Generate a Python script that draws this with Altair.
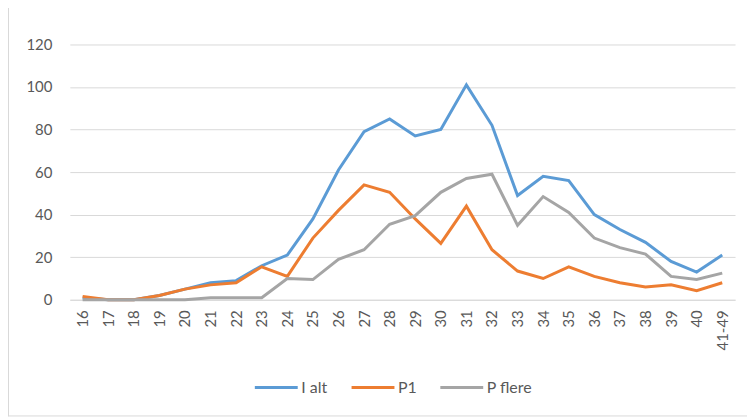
import altair as alt
import pandas as pd

ages = ["16", "17", "18", "19", "20", "21", "22", "23", "24", "25", "26", "27", "28",
        "29", "30", "31", "32", "33", "34", "35", "36", "37", "38", "39", "40", "41-49"]
i_alt = [1, 0, 0, 2, 5, 8, 9, 16, 21, 38, 61, 79, 85, 77, 80, 101, 82, 49, 58, 56, 40, 33, 27, 18, 13, 21]
p1 = [1.5, 0, 0, 2, 5, 7, 8, 15.5, 11, 29, 42, 54, 50.5, 38, 26.5, 44, 23.5, 13.5, 10, 15.5, 11, 8, 6, 7, 4.3, 8]
p_flere = [0, 0, 0, 0, 0, 1, 1, 1, 10, 9.5, 19, 23.5, 35.5, 39.5, 50.5, 57, 59, 35, 48.5, 41, 29, 24.5, 21.5, 11, 9.5, 12.5]

series = ["I alt", "P1", "P flere"]
colors = ["#5B9BD5", "#ED7D31", "#A5A5A5"]

rows = []
for name, vals in zip(series, [i_alt, p1, p_flere]):
    for i, (a, v) in enumerate(zip(ages, vals)):
        rows.append({"age": a, "value": v, "series": name, "order": i})
df = pd.DataFrame(rows)

FONT = "Lato, Open Sans, sans-serif"

lines = alt.Chart(df).mark_line(strokeWidth=3).encode(
    x=alt.X("age:N", sort=ages, title=None,
            scale=alt.Scale(type="point", padding=0.5),
            axis=alt.Axis(labelAngle=-90, labelPadding=10, ticks=False,
                          domainColor="#d9d9d9", labelColor="#595959",
                          labelFontSize=15, labelFont=FONT, labelAlign="right",
                          labelBaseline="middle")),
    y=alt.Y("value:Q", title=None,
            scale=alt.Scale(domain=[0, 120]),
            axis=alt.Axis(values=[0, 20, 40, 60, 80, 100, 120], domain=False, ticks=False,
                          gridColor="#d9d9d9", labelPadding=18, labelColor="#595959",
                          labelFontSize=15, labelFont=FONT)),
    color=alt.Color("series:N", sort=series,
                    scale=alt.Scale(domain=series, range=colors),
                    legend=alt.Legend(title=None, orient="none", direction="horizontal",
                                      legendX=184, legendY=321,
                                      symbolType="stroke", symbolStrokeWidth=3,
                                      symbolSize=1849, labelFontSize=16, labelFont=FONT,
                                      labelColor="#595959", columnPadding=17, labelOffset=2)),
    order=alt.Order("order:Q"),
)

border = alt.Chart(pd.DataFrame({"k": [0]})).mark_rule(color="#d9d9d9", strokeWidth=1).encode(
    x=alt.value(-61.5), y=alt.value(-50), y2=alt.value(373)
)
border2 = alt.Chart(pd.DataFrame({"k": [0]})).mark_rule(color="#d9d9d9", strokeWidth=1).encode(
    x=alt.value(-61.5), x2=alt.value(685), y=alt.value(372.5)
)

chart = alt.layer(border, border2, lines).properties(
    width=667, height=256,
    autosize=alt.AutoSizeParams(type="none"),
    padding={"left": 62, "top": 36, "right": 12, "bottom": 118},
).configure_view(stroke=None)

chart.save("out.html", embed_options={"renderer": "svg", "actions": False})
